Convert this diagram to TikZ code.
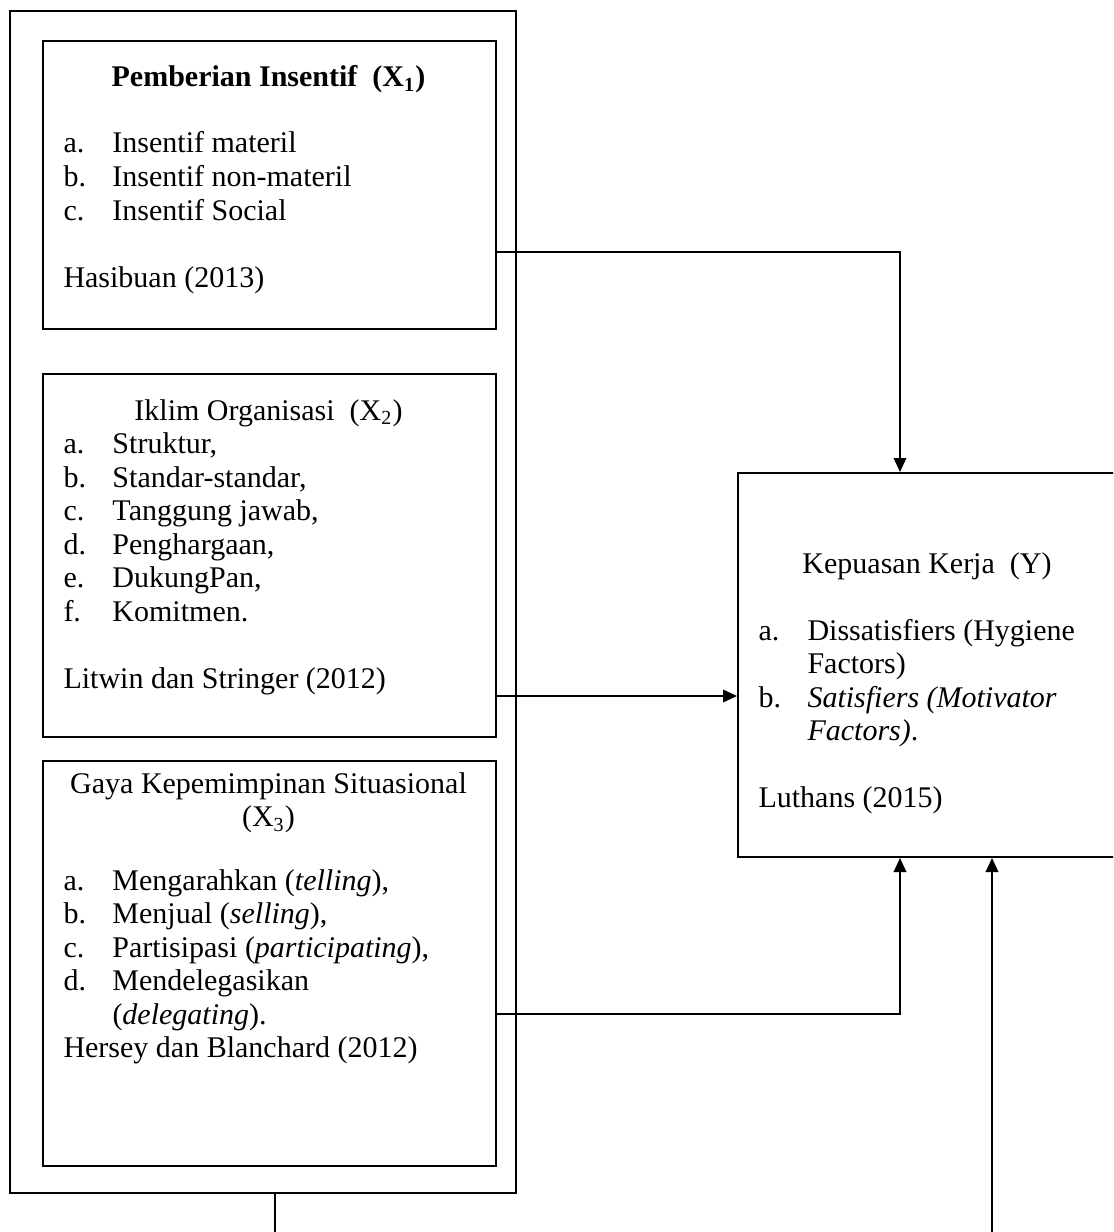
\documentclass[tikz,border=0pt]{standalone}
\usepackage{fontspec}
\setmainfont{Liberation Serif}
\usetikzlibrary{arrows.meta}
\begin{document}
\begin{tikzpicture}[x=0.4pt,y=-0.4pt,
  box/.style={draw,line width=0.8pt,inner sep=0pt,anchor=north west},
  txt/.style={inner sep=0pt,font=\fontsize{12}{13.4}\selectfont},
  lst/.style={txt,anchor=base west},
  conn/.style={line width=0.8pt},
  arr/.style={conn,-{Triangle[length=5.6pt,width=5pt]}}]
\useasboundingbox (0,0) rectangle (1113,1232);
\clip (0,0) rectangle (1113,1232);
% boxes
\node[box,minimum width=202.4pt,minimum height=472.8pt] (outer) at (9,10) {};
\node[box,minimum width=181.2pt,minimum height=115.2pt] (x1) at (42,40) {};
\node[box,minimum width=181.2pt,minimum height=145.2pt] (x2) at (42,373) {};
\node[box,minimum width=181.2pt,minimum height=162pt] (x3) at (42,760) {};
\node[box,minimum width=152pt,minimum height=153.6pt] (y) at (737,472) {};
% X1
\node[txt,anchor=base] (t1) at (268.5,87) {\textbf{Pemberian Insentif\ \ (X\textsubscript{1})}};
\node[lst] (l1) at (63,153) {\begin{tabular}[t]{@{}p{19.6pt}@{}l@{}}a.&Insentif materil\\b.&Insentif non-materil\\c.&Insentif Social\\[13.4pt]\multicolumn{2}{@{}l@{}}{Hasibuan (2013)}\end{tabular}};
% X2
\node[txt,anchor=base] (t2) at (268.5,420) {Iklim Organisasi\ \ (X\textsubscript{2})};
\node[lst] (l2) at (63,453.5) {\begin{tabular}[t]{@{}p{19.6pt}@{}l@{}}a.&Struktur,\\b.&Standar-standar,\\c.&Tanggung jawab,\\d.&Penghargaan,\\e.&DukungPan,\\f.&Komitmen.\\[13.4pt]\multicolumn{2}{@{}l@{}}{Litwin dan Stringer (2012)}\end{tabular}};
% X3
\node[txt,anchor=base] (t3a) at (268.5,793) {Gaya Kepemimpinan Situasional};
\node[txt,anchor=base] (t3b) at (268.5,826.5) {(X\textsubscript{3})};
\node[lst] (l3) at (63,890) {\begin{tabular}[t]{@{}p{19.6pt}@{}l@{}}a.&Mengarahkan (\textit{telling}),\\b.&Menjual (\textit{selling}),\\c.&Partisipasi (\textit{participating}),\\d.&Mendelegasikan\\&(\textit{delegating}).\\\multicolumn{2}{@{}l@{}}{Hersey dan Blanchard (2012)}\end{tabular}};
% Y
\node[txt,anchor=base] (ty) at (927,573) {Kepuasan Kerja\ \ (Y)};
\node[lst] (ly) at (758,640) {\begin{tabular}[t]{@{}p{19.6pt}@{}l@{}}a.&Dissatisfiers (Hygiene\\&Factors)\\b.&\textit{Satisfiers (Motivator}\\&\textit{Factors)}.\\[13.4pt]\multicolumn{2}{@{}l@{}}{Luthans (2015)}\end{tabular}};
% connectors
\draw[arr] (x1.east |- 0,252) -| (y.north -| 900,0);
\draw[arr] (x2.east |- 0,696) -- (y.west |- 0,696);
\draw[arr] (x3.east |- 0,1014) -| (y.south -| 900,0);
\coordinate (b1) at (275,1232);
\coordinate (b2) at (992,1232);
\draw[conn] (outer.south -| b1) -- (b1);
\draw[arr] (b2) -- (y.south -| b2);
\end{tikzpicture}
\end{document}
